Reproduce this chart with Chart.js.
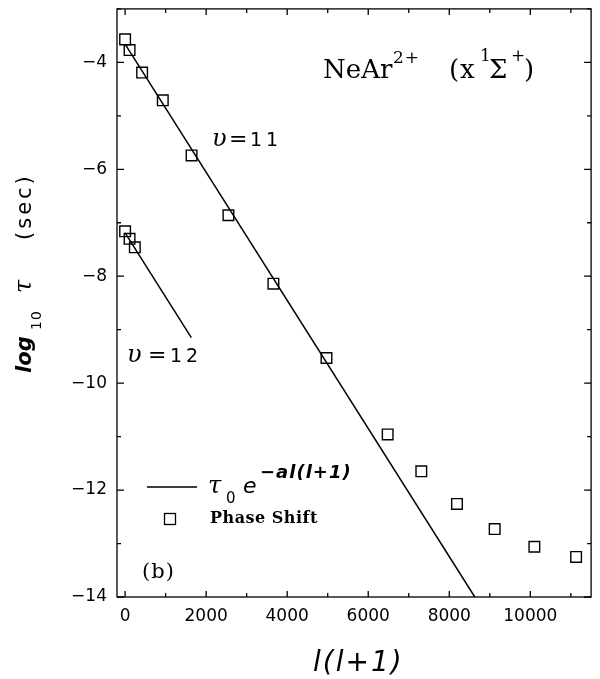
<!DOCTYPE html>
<html>
<head>
<meta charset="utf-8">
<script src="https://cdn.jsdelivr.net/npm/chart.js@4"></script>
<style>
  html, body { margin: 0; padding: 0; background: #fff; }
  #wrap { width: 600px; height: 679px; position: relative; }
</style>
</head>
<body>
<div id="wrap"><canvas id="lifetimeChart"></canvas></div>
<script>
// ========= Data =========
// l(l+1) and log10 tau, phase shift points
const v11X = [0, 110, 420, 930, 1640, 2550, 3660, 4970, 6480, 7310, 8190, 9120, 10100, 11130];
const v11Y = [-3.57, -3.77, -4.19, -4.71, -5.74, -6.86, -8.14, -9.53, -10.96, -11.65, -12.26, -12.73, -13.06, -13.25];
const v12X = [0, 110, 240];
const v12Y = [-7.16, -7.30, -7.46];

// fitted tau0 * exp(-a l(l+1)) lines
const fit11X = [0, 8630];
const fit11Y = [-3.66, -14];
const fit12X = [0, 1634];
const fit12Y = [-7.19, -9.15];

// axes
const xTicks = [0, 2000, 4000, 6000, 8000, 10000];
const xMinor = [1000, 3000, 5000, 7000, 9000, 11000];
const yTicks = [-14, -12, -10, -8, -6, -4];
const yMinor = [-13, -11, -9, -7, -5, -3];

const pts = (xs, ys) => xs.map((x, i) => ({ x, y: ys[i] }));

// draw a string, optionally char by char with extra spacing
function put(ctx, str, x, y, font, sp) {
  ctx.font = font;
  if (!sp) { ctx.fillText(str, x, y); return x + ctx.measureText(str).width; }
  for (const ch of str) {
    ctx.fillText(ch, x, y);
    x += ctx.measureText(ch).width + sp;
  }
  return x;
}

// frame, inward ticks, labels and legend
const decor = {
  id: 'decor',
  afterDraw(chart) {
    const { ctx, chartArea: a, scales: { x, y } } = chart;
    ctx.save();
    ctx.strokeStyle = '#000';
    ctx.fillStyle = '#000';
    ctx.lineWidth = 1.3;
    ctx.strokeRect(a.left, a.top, a.right - a.left, a.bottom - a.top);

    ctx.beginPath();
    const xt = (v, len) => {
      const px = x.getPixelForValue(v);
      ctx.moveTo(px, a.bottom); ctx.lineTo(px, a.bottom - len);
      ctx.moveTo(px, a.top); ctx.lineTo(px, a.top + len);
    };
    const yt = (v, len) => {
      const py = y.getPixelForValue(v);
      ctx.moveTo(a.left, py); ctx.lineTo(a.left + len, py);
      ctx.moveTo(a.right, py); ctx.lineTo(a.right - len, py);
    };
    xTicks.forEach(v => xt(v, 6));
    xMinor.forEach(v => xt(v, 4));
    yTicks.forEach(v => yt(v, 7));
    yMinor.forEach(v => yt(v, 4));
    ctx.stroke();

    ctx.textBaseline = 'alphabetic';
    ctx.textAlign = 'left';

    // title
    put(ctx, 'NeAr', 323, 78, '26px "DejaVu Serif"');
    put(ctx, '2+', 393, 63, '17px "DejaVu Serif"', 1);
    put(ctx, '(', 449, 78, '26px "DejaVu Serif"');
    put(ctx, 'x', 460, 78, '26px "DejaVu Serif"');
    put(ctx, '1', 480, 61, '17px "DejaVu Serif"');
    put(ctx, 'Σ', 489, 78, '26px "DejaVu Serif"');
    put(ctx, '+', 511, 61, '17px "DejaVu Serif"');
    put(ctx, ')', 524, 78, '26px "DejaVu Serif"');

    // curve labels
    put(ctx, 'υ', 212, 146, 'italic 24px "DejaVu Serif"');
    put(ctx, '=', 229, 146, '22px "DejaVu Sans"');
    put(ctx, '11', 250, 146, '19px "DejaVu Sans"', 4);
    put(ctx, 'υ', 127, 362, 'italic 24px "DejaVu Serif"');
    put(ctx, '=', 148, 362, '22px "DejaVu Sans"');
    put(ctx, '12', 170, 362, '19px "DejaVu Sans"', 4);

    // legend
    ctx.beginPath();
    ctx.lineWidth = 1.4;
    ctx.moveTo(147, 487); ctx.lineTo(197, 487);
    ctx.stroke();
    put(ctx, 'τ', 208, 493, 'italic 24px "DejaVu Serif"');
    put(ctx, '0', 226, 503, '15px "DejaVu Sans"');
    put(ctx, 'e', 243, 493, 'italic 22px "DejaVu Sans"');
    put(ctx, '−al(l+1)', 260, 478, 'italic bold 18px "DejaVu Sans"', 1);
    ctx.lineWidth = 1.3;
    ctx.strokeRect(164.5, 513.5, 11, 11);
    put(ctx, 'Phase Shift', 210, 523, 'bold 16px "DejaVu Serif"', 0.5);
    put(ctx, '(b)', 142, 578, '21px "DejaVu Serif"', 1);

    // x axis title
    put(ctx, 'l(l+1)', 313, 671, 'italic 28px "DejaVu Sans"', 2);

    // y axis title (rotated)
    ctx.translate(31, 373);
    ctx.rotate(-Math.PI / 2);
    put(ctx, 'log', 0, 0, 'italic bold 21px "DejaVu Sans"');
    put(ctx, '10', 43, 10, '14px "DejaVu Sans"', 1);
    put(ctx, 'τ', 80, 0, 'italic 24px "DejaVu Serif"');
    put(ctx, '(sec)', 133, 0, '21px "DejaVu Sans"', 3);
    ctx.restore();
  }
};

const squareStyle = {
  showLine: false,
  pointStyle: 'rect',
  pointRadius: 7.5,
  pointBorderWidth: 1.4,
  pointBorderColor: '#000',
  pointBackgroundColor: 'rgba(0,0,0,0)'
};

const lineStyle = {
  showLine: true,
  borderColor: '#000',
  borderWidth: 1.5,
  pointRadius: 0,
  tension: 0
};

new Chart(document.getElementById('lifetimeChart'), {
  type: 'scatter',
  data: {
    datasets: [
      { label: 'fit v=11', data: pts(fit11X, fit11Y), ...lineStyle },
      { label: 'fit v=12', data: pts(fit12X, fit12Y), ...lineStyle },
      { label: 'Phase Shift v=11', data: pts(v11X, v11Y), ...squareStyle },
      { label: 'Phase Shift v=12', data: pts(v12X, v12Y), ...squareStyle }
    ]
  },
  options: {
    responsive: true,
    maintainAspectRatio: false,
    animation: false,
    devicePixelRatio: 1,
    layout: { padding: { top: 1, right: 4, left: 0, bottom: 0 } },
    plugins: {
      legend: { display: false },
      tooltip: { enabled: false }
    },
    scales: {
      x: {
        type: 'linear',
        min: -200,
        max: 11500,
        grid: { display: false, drawTicks: false },
        border: { display: false },
        afterBuildTicks: s => { s.ticks = xTicks.map(v => ({ value: v })); },
        afterFit: s => { s.height = 82; s.paddingLeft = 0; s.paddingRight = 0; },
        ticks: {
          color: '#000',
          padding: 9,
          maxRotation: 0,
          autoSkip: false,
          font: { family: 'DejaVu Sans', size: 17 },
          callback: v => String(v)
        }
      },
      y: {
        type: 'linear',
        min: -14,
        max: -3,
        grid: { display: false, drawTicks: false },
        border: { display: false },
        afterBuildTicks: s => { s.ticks = yTicks.map(v => ({ value: v })); },
        afterFit: s => { s.width = 117; s.paddingTop = 0; s.paddingBottom = 0; },
        ticks: {
          color: '#000',
          padding: 10,
          autoSkip: false,
          font: { family: 'DejaVu Sans', size: 17 },
          callback: v => (v < 0 ? '−' : '') + Math.abs(v)
        }
      }
    }
  },
  plugins: [decor]
});
</script>
</body>
</html>
